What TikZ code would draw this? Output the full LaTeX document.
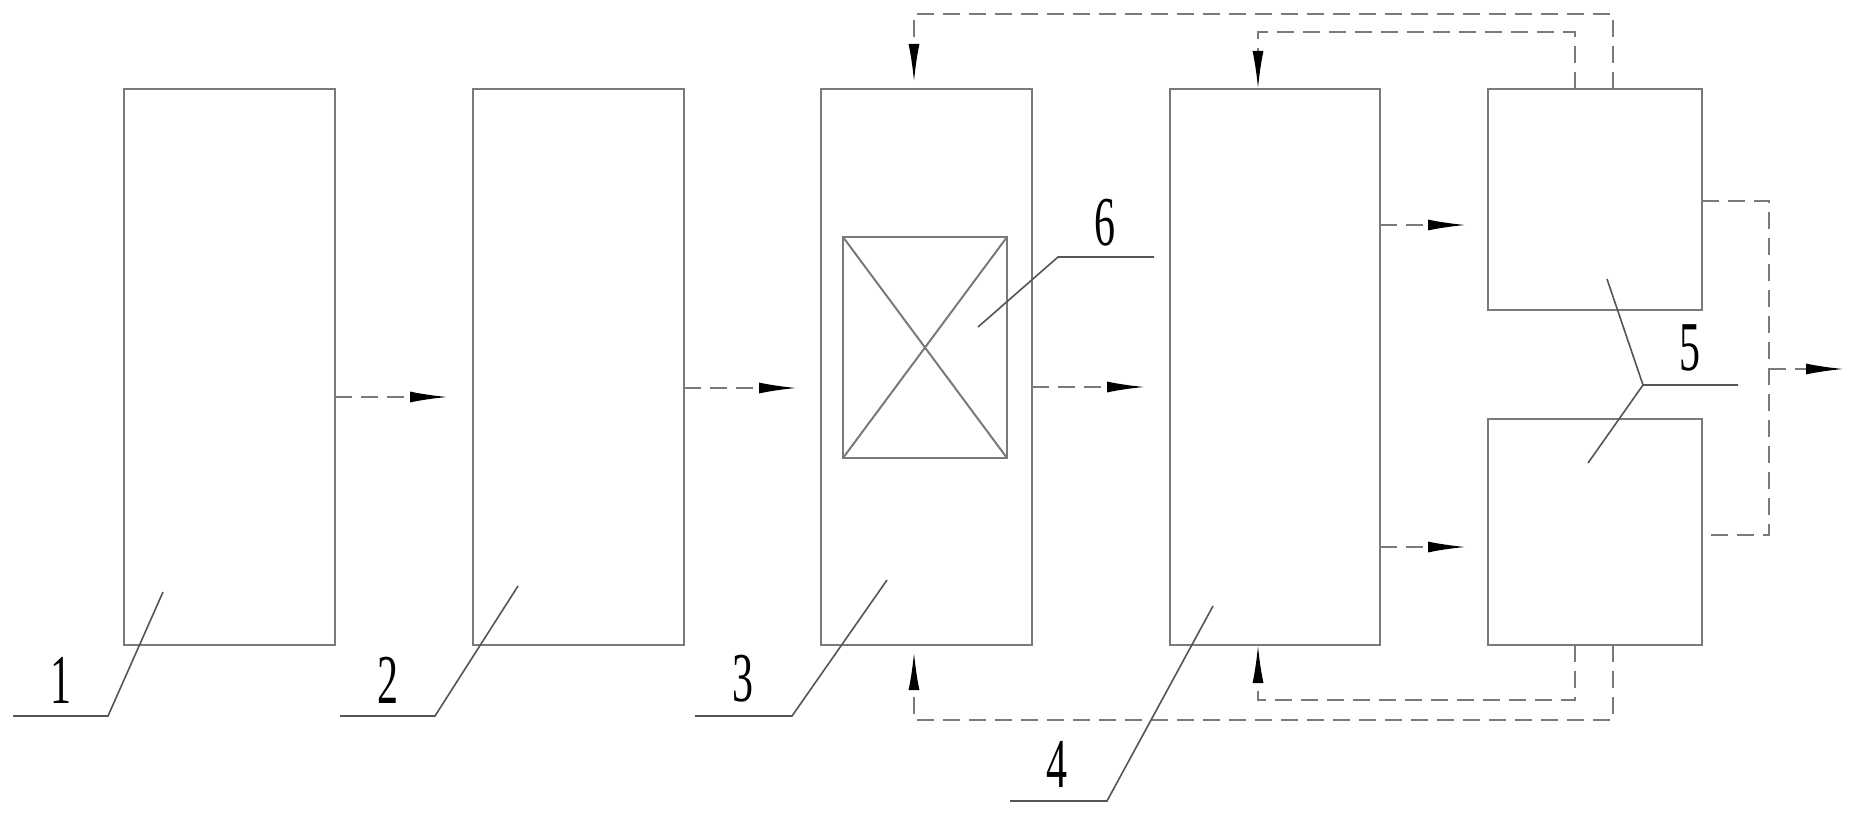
\documentclass[tikz,border=0pt]{standalone}
\usepackage{graphicx}
\usepackage{fontspec}
\newfontfamily\digitfont{Liberation Serif}
\usetikzlibrary{arrows.meta,calc}
\definecolor{lc}{HTML}{7A7A7A}
\definecolor{ldr}{HTML}{555555}
\begin{document}
\begin{tikzpicture}[x=1pt,y=-1pt,
  blk/.style={draw=lc,line width=2.2pt,inner sep=0pt,outer sep=0pt},
  flow/.style={draw=lc,line width=2pt,dash pattern=on 17pt off 9pt,
    -{Latex[length=38pt,width=11pt,black]}},
  loop/.style={draw=lc,line width=2pt,dash pattern=on 17pt off 9pt},
  loopar/.style={loop,-{Latex[length=38pt,width=11pt,black]}},
  leader/.style={draw=ldr,line width=1.6pt},
  num/.style={font=\digitfont\fontsize{70}{70}\selectfont,inner sep=0pt,text=black}]
\useasboundingbox[fill=white] (0,0) rectangle (1858,816);
% boxes
\node[blk,minimum width=211pt,minimum height=556pt] (b1) at (229.5,367) {};
\node[blk,minimum width=211pt,minimum height=556pt] (b2) at (578.5,367) {};
\node[blk,minimum width=211pt,minimum height=556pt] (b3) at (926.5,367) {};
\node[blk,minimum width=210pt,minimum height=556pt] (b4) at (1275,367) {};
\node[blk,minimum width=214pt,minimum height=221pt] (b5a) at (1595,199.5) {};
\node[blk,minimum width=214pt,minimum height=226pt] (b5b) at (1595,532) {};
\node[blk,minimum width=164pt,minimum height=221pt] (in) at (925,347.5) {};
\draw[lc,line width=2pt] (in.north west) -- (in.south east) (in.north east) -- (in.south west);
% flow arrows
\coordinate (t12) at (448,397);
\coordinate (t23) at (797,388);
\coordinate (t34) at (1145,387);
\coordinate (t45a) at (1466,225);
\coordinate (t45b) at (1466,547);
\draw[flow] (b1.east |- t12) -- (t12);
\draw[flow] (b2.east |- t23) -- (t23);
\draw[flow] (b3.east |- t34) -- (t34);
\draw[flow] (b4.east |- t45a) -- (t45a);
\draw[flow] (b4.east |- t45b) -- (t45b);
% outlet collector
\coordinate (ca) at (1769,201);
\coordinate (cb) at (1769,535);
\coordinate (cm) at (1769,369);
\coordinate (out) at (1844,369);
\draw[loop] (b5a.east |- ca) -- (ca) -- (cb) -- (b5b.east |- cb);
\draw[flow] (cm) -- (out);
% top return loops
\coordinate (to1) at (1613,14);
\coordinate (to2) at (914,14);
\coordinate (to3) at (914,82);
\draw[loopar] (b5a.north -| to1) -- (to1) -- (to2) -- (to3);
\coordinate (ti1) at (1575,32);
\coordinate (ti2) at (1258,32);
\draw[loopar] (b5a.north -| ti1) -- (ti1) -- (ti2) -- (b4.north -| ti2);
% bottom return loops
\coordinate (bo1) at (1613,720);
\coordinate (bo2) at (914,720);
\coordinate (bo3) at (914,652);
\draw[loopar] (b5b.south -| bo1) -- (bo1) -- (bo2) -- (bo3);
\coordinate (bi1) at (1575,700);
\coordinate (bi2) at (1258,700);
\draw[loopar] (b5b.south -| bi1) -- (bi1) -- (bi2) -- (b4.south -| bi2);
% leaders and labels
\draw[leader] (13,716) -- (108,716) -- (163,592);
\node[num] (n1) at (61,680) {\scalebox{0.6}[1]{1}};
\draw[leader] (340,716) -- (435,716) -- (518,586);
\node[num] (n2) at (388,680) {\scalebox{0.6}[1]{2}};
\draw[leader] (695,716) -- (792,716) -- (887,580);
\node[num] (n3) at (743,679) {\scalebox{0.6}[1]{3}};
\draw[leader] (1010,801) -- (1107,801) -- (1213,606);
\node[num] (n4) at (1057,764) {\scalebox{0.6}[1]{4}};
\draw[leader] (1154,257) -- (1058,257) -- (978,327);
\node[num] (n6) at (1105,223) {\scalebox{0.6}[1]{6}};
\draw[leader] (1738,385) -- (1643,385) -- (1607,279);
\draw[leader] (1643,385) -- (1588,463);
\node[num] (n5) at (1690,348) {\scalebox{0.6}[1]{5}};
\end{tikzpicture}
\end{document}
